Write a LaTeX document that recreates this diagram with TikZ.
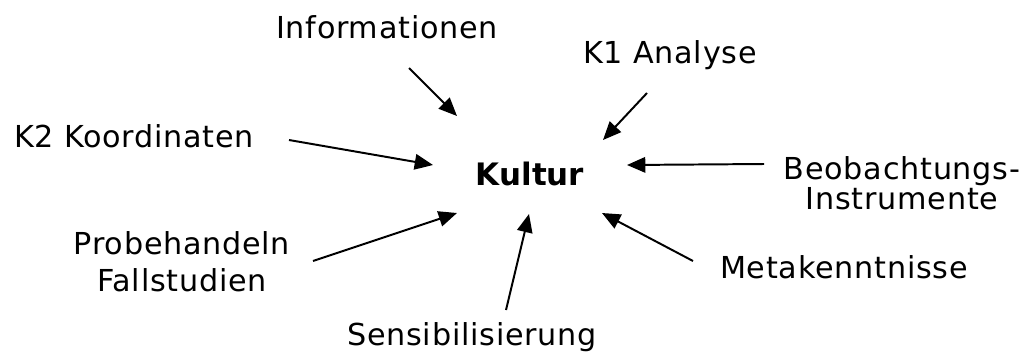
\documentclass[tikz,border=0pt]{standalone}
\usepackage{fontspec}
\setmainfont{DejaVu Sans}
\newfontfamily\lblfont{DejaVu Sans}[LetterSpace=2.5]
\usetikzlibrary{arrows.meta}

\begin{document}
\begin{tikzpicture}[x=0.025cm,y=-0.025cm]

    \tikzset{lbl/.style={inner sep=0pt,align=center,font=\lblfont\fontsize{21.5}{25}\selectfont},
             arr/.style={-{Triangle[length=13pt,width=11pt]},line width=1.4pt}}
    \useasboundingbox (0,0) rectangle (1036,356);

    \node[font=\bfseries\fontsize{22}{26}\selectfont,inner sep=0pt,anchor=base] (kultur) at (530,185) {Kultur};

    \node[lbl,anchor=base] (info) at (387,38) {Informationen};
    \node[lbl,anchor=base] (kone) at (670,63) {K1 Analyse};
    \node[lbl,anchor=base] (ktwo) at (134,147) {K2 Koordinaten};
    \node[lbl,font=\lblfont\fontsize{21.5}{18.6}\selectfont] (beob) at (902,183) {Beobachtungs-\\Instrumente};
    \node[lbl,font=\lblfont\fontsize{21.5}{26.2}\selectfont] (probe) at (182,262) {Probehandeln\\Fallstudien};
    \node[lbl,anchor=base] (sens) at (472,345) {Sensibilisierung};
    \node[lbl,anchor=base] (meta) at (844,278) {Metakenntnisse};

    % start and tip of each arrow
    \coordinate (info-s) at (409,68);  \coordinate (info-t) at (457,116);
    \coordinate (kone-s) at (647,93);  \coordinate (kone-t) at (603,140);
    \coordinate (ktwo-s) at (289,140); \coordinate (ktwo-t) at (433,165);
    \coordinate (beob-s) at (764,164); \coordinate (beob-t) at (627,165);
    \coordinate (probe-s) at (313,261); \coordinate (probe-t) at (457,213);
    \coordinate (sens-s) at (506,310); \coordinate (sens-t) at (529,214);
    \coordinate (meta-s) at (693,261); \coordinate (meta-t) at (602,213);

    \begin{scope}[every path/.style={arr}]
        \draw (info-s) -- (info-t);
        \draw (kone-s) -- (kone-t);
        \draw (ktwo-s) -- (ktwo-t);
        \draw (beob-s) -- (beob-t);
        \draw (probe-s) -- (probe-t);
        \draw (sens-s) -- (sens-t);
        \draw (meta-s) -- (meta-t);
    \end{scope}
\end{tikzpicture}
\end{document}
